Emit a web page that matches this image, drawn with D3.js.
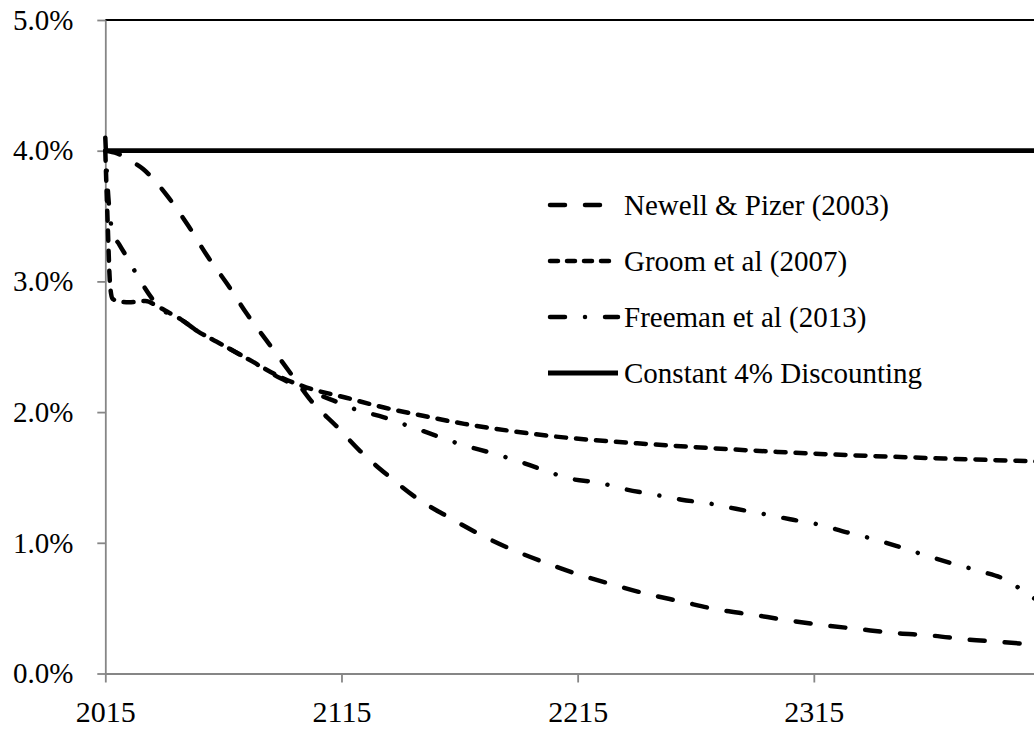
<!DOCTYPE html>
<html>
<head>
<meta charset="utf-8">
<script src="https://cdn.jsdelivr.net/npm/d3@7"></script>
<style>
  body { margin: 0; background: #fff; }
  svg text { font-family: 'Liberation Serif', Tinos, 'DejaVu Serif', 'Noto Serif', serif; }
</style>
</head>
<body>
<div id="chart"></div>
<script>
// discount rate (%) by year
const newell = [
  [2015, 4.0], [2020, 3.98], [2025, 3.93], [2031, 3.86], [2036, 3.77], [2041, 3.66],
  [2050, 3.43], [2058, 3.2], [2067, 2.97], [2075, 2.75], [2084, 2.53], [2097, 2.21],
  [2102, 2.09], [2113, 1.89], [2123, 1.7], [2135, 1.51], [2147, 1.34], [2160, 1.2],
  [2173, 1.07], [2187, 0.95], [2201, 0.85], [2215, 0.76], [2230, 0.68], [2244, 0.61],
  [2259, 0.55], [2274, 0.49], [2289, 0.45], [2303, 0.41], [2319, 0.37], [2334, 0.34],
  [2349, 0.31], [2365, 0.29], [2380, 0.26], [2395, 0.24], [2415, 0.21]
];

const groom = [
  [2015, 4.0], [2016, 3.45], [2017, 2.98], [2018, 2.87], [2020, 2.85], [2025, 2.84],
  [2032, 2.85], [2037, 2.81], [2042, 2.76], [2047, 2.71], [2054, 2.62], [2062, 2.54],
  [2076, 2.4], [2089, 2.27], [2100, 2.19], [2117, 2.11], [2133, 2.035], [2150, 1.97],
  [2167, 1.91], [2185, 1.86], [2202, 1.82], [2219, 1.79], [2245, 1.755], [2271, 1.725],
  [2300, 1.695], [2331, 1.67], [2370, 1.645], [2415, 1.62]
];

const freeman = [
  [2015, 4.1], [2016, 3.72], [2017, 3.5], [2018, 3.38], [2021, 3.28], [2024, 3.19],
  [2030, 3.0], [2038, 2.8], [2047, 2.71], [2054, 2.62], [2062, 2.54], [2076, 2.4],
  [2089, 2.26], [2100, 2.17], [2110, 2.1], [2121, 2.02], [2133, 1.96], [2144, 1.89],
  [2155, 1.82], [2166, 1.75], [2178, 1.69], [2189, 1.63], [2200, 1.56], [2212, 1.49],
  [2224, 1.46], [2235, 1.41], [2247, 1.37], [2259, 1.33], [2271, 1.3], [2282, 1.26],
  [2294, 1.22], [2305, 1.18], [2317, 1.14], [2329, 1.08], [2340, 1.03], [2351, 0.97],
  [2363, 0.9], [2374, 0.84], [2386, 0.78], [2396, 0.72], [2407, 0.59], [2415, 0.5]
];

const constant = [[2015, 4.0], [2415, 4.0]];

// 2415 falls just past the cropped right edge, so only these labels show
const xTicks = [2015, 2115, 2215, 2315];
const yTicks = [0, 1, 2, 3, 4, 5];

const series = [
  { name: 'Newell & Pizer (2003)', values: newell, dash: '15,20', legendDash: '15,20' },
  { name: 'Groom et al (2007)', values: groom, dash: '10,10', legendDash: '8,9' },
  { name: 'Freeman et al (2013)', values: freeman, dash: '13,20,0.01,20', legendDash: '15,20,0.01,20' },
  { name: 'Constant 4% Discounting', values: constant, dash: null, legendDash: null }
];

const width = 1034;
const height = 729;

const svg = d3.select('#chart')
  .append('svg')
  .attr('width', width)
  .attr('height', height);

const plot = { left: 105.3, right: 1050, top: 20, bottom: 673.5 };

const xScale = d3.scaleLinear().domain([2015, 2415]).range([plot.left, plot.right]);
const yScale = d3.scaleLinear().domain([0, 5]).range([plot.bottom, plot.top]);

// top border of the plot area
svg.append('line')
  .attr('x1', plot.left).attr('x2', plot.right)
  .attr('y1', yScale(5)).attr('y2', yScale(5))
  .attr('stroke', '#000')
  .attr('stroke-width', 1.8);

// Y axis
const yAxis = svg.append('g')
  .attr('transform', `translate(${plot.left}, 0)`)
  .call(d3.axisLeft(yScale)
    .tickValues(yTicks)
    .tickSize(8)
    .tickSizeOuter(0)
    .tickPadding(24)
    .tickFormat((d) => d.toFixed(1) + '%'));

// X axis
const xAxis = svg.append('g')
  .attr('transform', `translate(0, ${plot.bottom})`)
  .call(d3.axisBottom(xScale)
    .tickValues(xTicks)
    .tickSize(9)
    .tickSizeOuter(0)
    .tickFormat((d) => String(d)));

xAxis.selectAll('text').attr('dy', null).attr('y', 48.5);

[xAxis, yAxis].forEach((g) => {
  g.attr('font-family', null);
  g.selectAll('path, line').attr('stroke', '#868686').attr('stroke-width', 1.8);
  g.selectAll('text').attr('fill', '#000').style('font-size', '30px');
});
yAxis.selectAll('text').style('font-size', '29px');

const line = d3.line()
  .x((d) => xScale(d[0]))
  .y((d) => yScale(d[1]))
  .curve(d3.curveMonotoneX);

svg.append('g')
  .attr('class', 'lines')
  .selectAll('path')
  .data(series)
  .join('path')
  .attr('d', (d) => line(d.values))
  .attr('fill', 'none')
  .attr('stroke', '#000')
  .attr('stroke-width', (d) => d.dash ? 4.5 : 4.8)
  .attr('stroke-linecap', (d) => d.dash ? 'round' : 'butt')
  .attr('stroke-linejoin', 'round')
  .attr('stroke-dasharray', (d) => d.dash);

// legend
const legend = svg.append('g')
  .attr('class', 'legend')
  .attr('transform', 'translate(548, 205)');

const items = legend.selectAll('g')
  .data(series)
  .join('g')
  .attr('transform', (d, i) => `translate(0, ${i * 56})`);

items.append('line')
  .attr('x1', (d) => d.dash ? 2 : 0)
  .attr('x2', 70)
  .attr('stroke', '#000')
  .attr('stroke-width', (d) => d.dash ? 4.5 : 4.8)
  .attr('stroke-linecap', (d) => d.dash ? 'round' : 'butt')
  .attr('stroke-dasharray', (d) => d.legendDash);

items.append('text')
  .attr('x', 76)
  .attr('y', 10)
  .style('font-size', '29px')
  .attr('fill', '#000')
  .text((d) => d.name);
</script>
</body>
</html>
